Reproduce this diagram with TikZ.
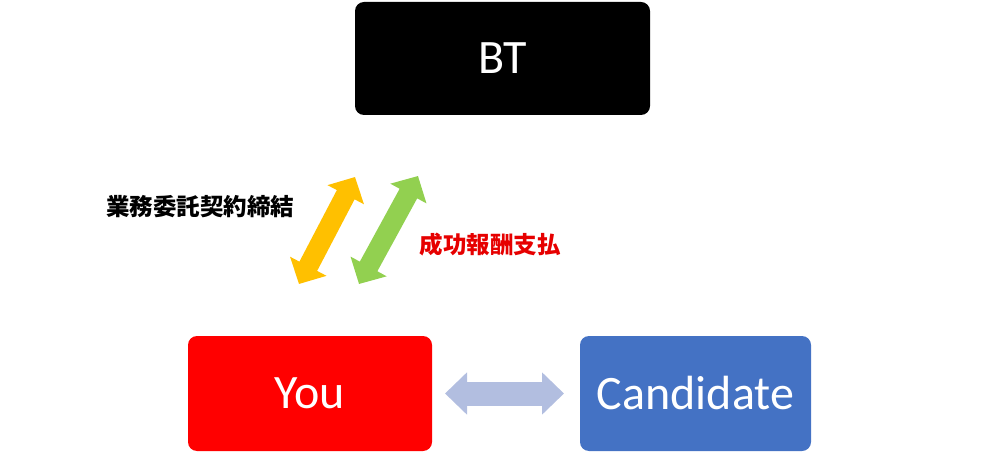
\documentclass[tikz,border=0pt]{standalone}
\usepackage{fontspec}
\setmainfont{Carlito}
\newfontfamily\cjk{Noto Sans CJK JP}
\usetikzlibrary{arrows.meta}
\definecolor{candblue}{RGB}{68,114,196}
\definecolor{arrorange}{RGB}{255,192,0}
\definecolor{arrgreen}{RGB}{146,208,80}
\definecolor{arrlav}{RGB}{178,190,224}
\definecolor{txtred}{RGB}{230,0,0}
\tikzset{
  boxnode/.style={rounded corners=9pt, inner sep=0pt, font=\fontsize{48}{56}\selectfont, text=white},
  lbl/.style={font=\cjk\bfseries\fontsize{23.5}{28}\selectfont, inner sep=0pt},
  fatarrow/.style={line width=20pt, line cap=butt, {Triangle[width=40pt,length=20pt]}-{Triangle[width=40pt,length=20pt]}},
  flatarrow/.style={line width=24pt, line cap=butt, {Triangle[width=41pt,length=22pt]}-{Triangle[width=41pt,length=22pt]}}
}
\begin{document}
\begin{tikzpicture}[x=1pt,y=-1pt]
\useasboundingbox (0,0) rectangle (998,454);
\node[boxnode, fill=black, minimum width=295pt, minimum height=113pt] (bt) at (502.5,58.5) {BT};
\node[boxnode, fill=red, minimum width=244pt, minimum height=115pt] (you) at (310,393.5) {You};
\node[boxnode, fill=candblue, minimum width=231pt, minimum height=115pt] (cand) at (695.5,393.5) {Candidate};
\coordinate (o1) at (299,284);
\coordinate (o2) at (355,177);
\coordinate (g1) at (359,284);
\coordinate (g2) at (418,176);
\coordinate (h1) at (445,393.5);
\coordinate (h2) at (564,393.5);
\draw[fatarrow, arrorange] (o1) -- (o2);
\draw[fatarrow, arrgreen] (g1) -- (g2);
\draw[flatarrow, arrlav] (h1) -- (h2);
\node[lbl] (l1) at (200,207) {業務委託契約締結};
\node[lbl, text=txtred] (l2) at (490,245) {成功報酬支払};
\end{tikzpicture}
\end{document}
